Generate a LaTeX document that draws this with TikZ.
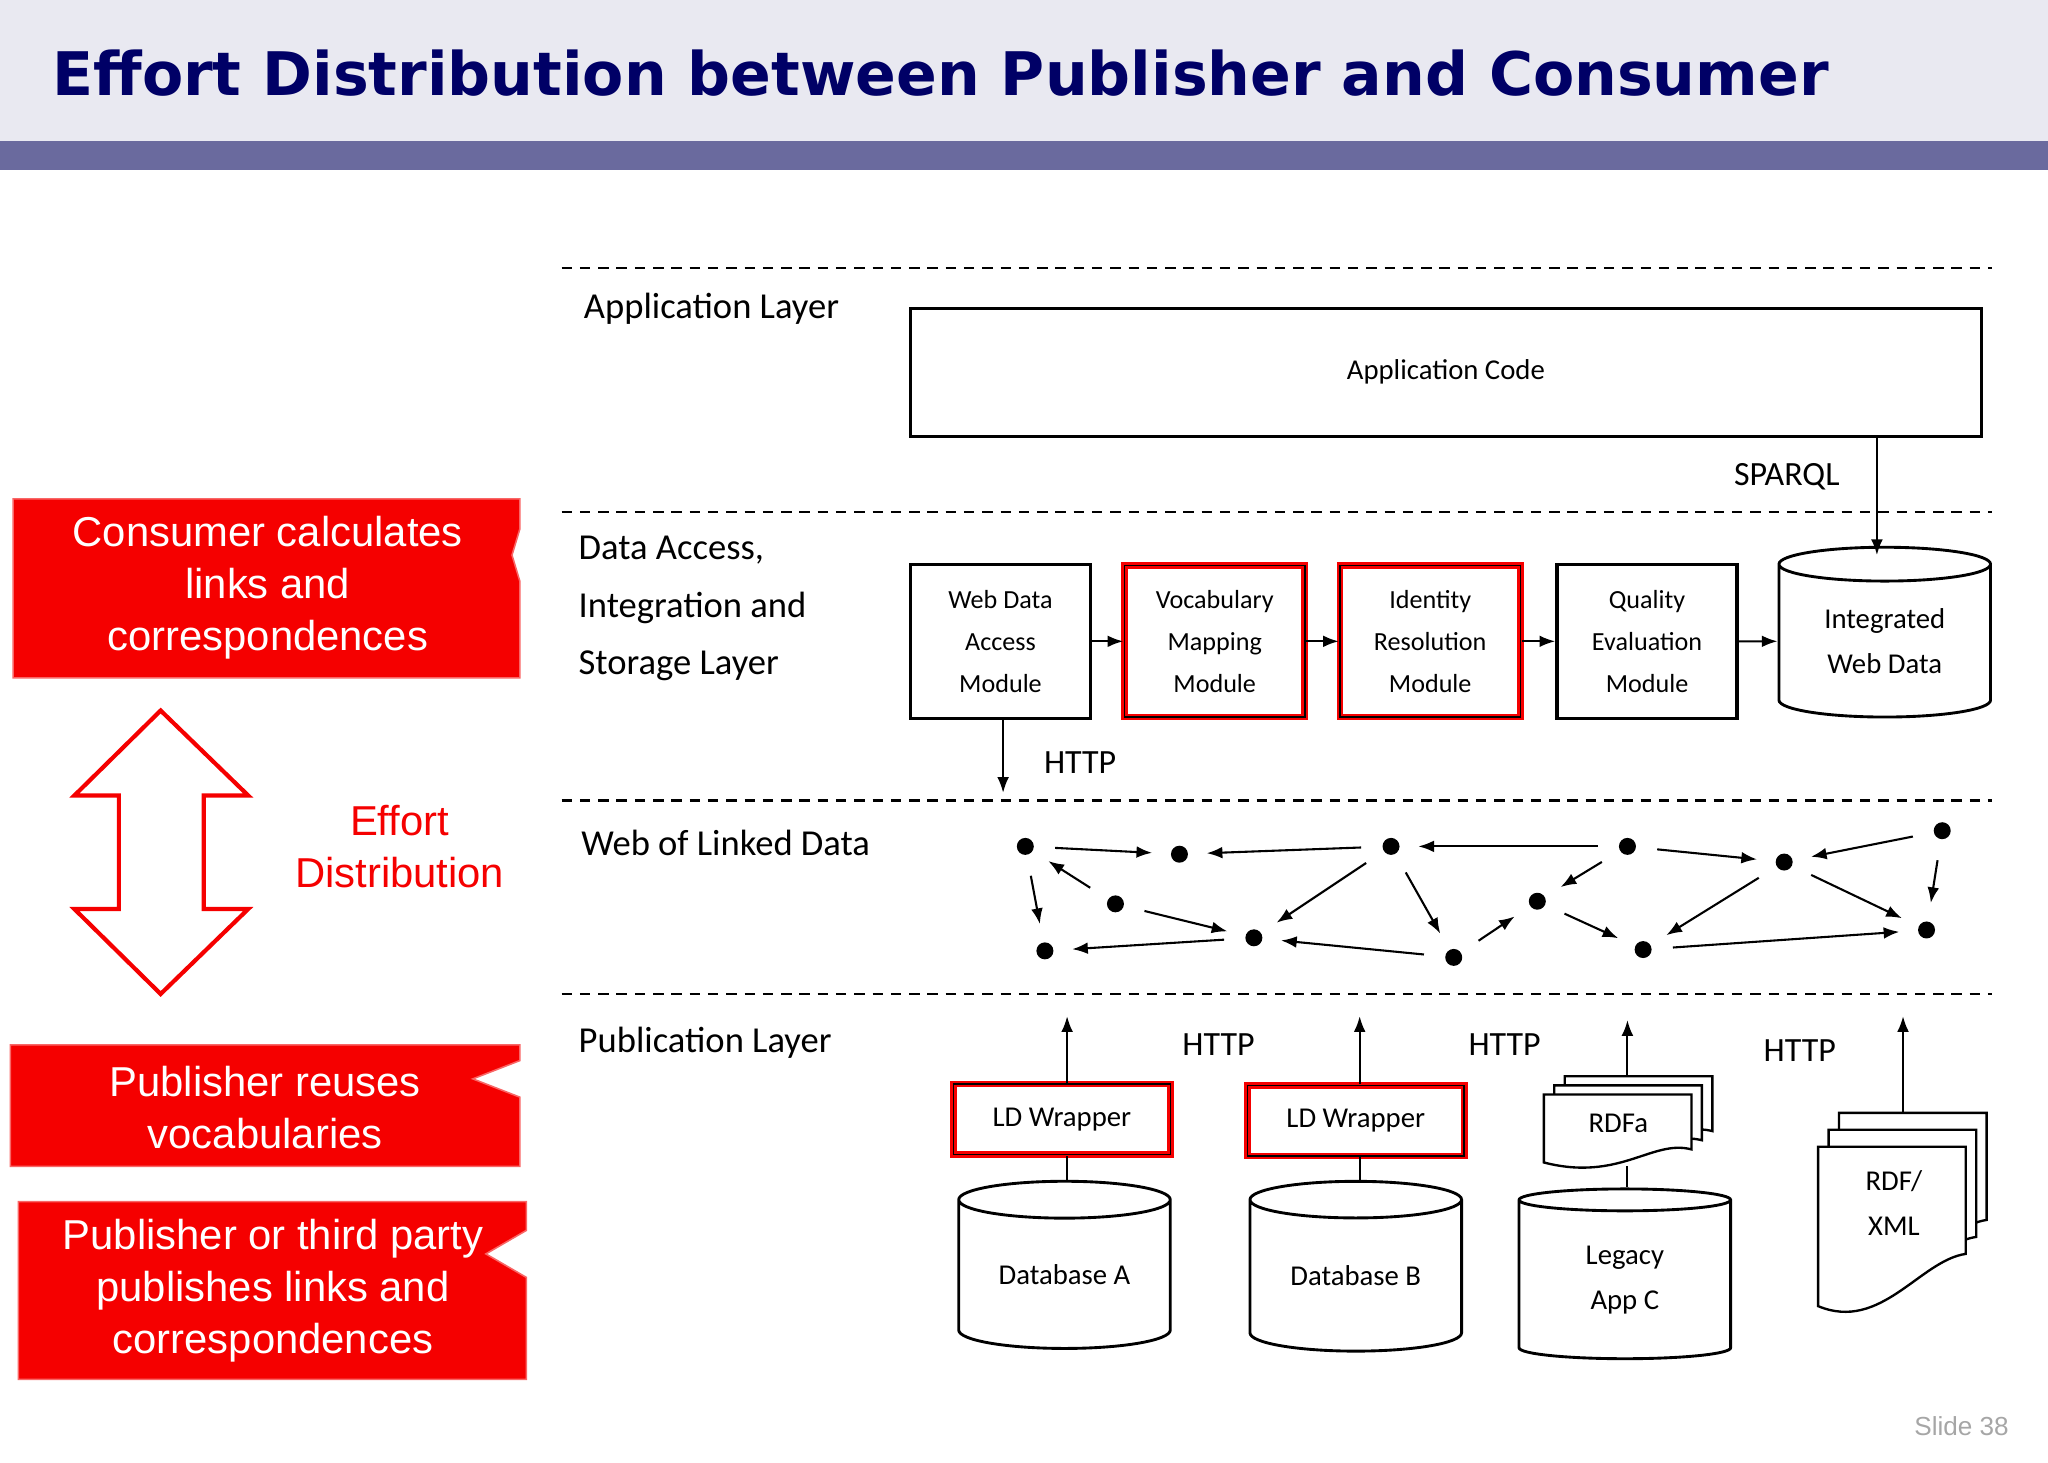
\documentclass[tikz,border=0pt]{standalone}
\usepackage{fontspec}
\setmainfont{Carlito}
\newfontfamily\titlefont{DejaVu Sans}
\newfontfamily\arialf{Liberation Sans}
\usetikzlibrary{shapes.geometric,arrows.meta,calc}
\definecolor{navy}{HTML}{000066}
\definecolor{band}{HTML}{6A6A9E}
\definecolor{topbg}{HTML}{E9E9F1}
\definecolor{pred}{HTML}{F50000}
\begin{document}
\begin{tikzpicture}[x=0.5pt,y=-0.5pt,
  layerline/.style={line width=0.9pt,dash pattern=on 4pt off 3pt},
  lay/.style={anchor=west,font=\fontsize{14}{16}\selectfont},
  mod/.style={draw,line width=1.3pt,align=center,inner sep=0,font=\fontsize{10}{16}\selectfont},
  redmod/.style={mod,draw=pred,double=black,double distance=0.6pt,line width=1pt},
  cyl/.style={cylinder,shape border rotate=90,draw,line width=1.1pt,aspect=0.28,inner sep=0,align=center,font=\fontsize{11}{17}\selectfont,fill=white},
  arr/.style={-{Latex[length=6pt,width=4.5pt]},line width=0.8pt},
  dot/.style={circle,fill=black,inner sep=0,minimum size=6.5pt},
  g/.style={arr,shorten >=7pt,shorten <=8pt},
  lbl/.style={font=\fontsize{13}{15}\selectfont},
  redbox/.style={fill=pred,draw=pred!60!white,line width=0.6pt},
  wt/.style={text=white,align=center,font=\arialf\fontsize{16}{20}\selectfont}
]
\useasboundingbox (0,0) rectangle (1568,1120);
\fill[topbg] (0,0) rectangle (1568,108);
\fill[band] (0,108) rectangle (1568,130);
\node[anchor=west,text=navy,font=\titlefont\bfseries\fontsize{23}{26}\selectfont] (title) at (33,56) {Effort Distribution between Publisher and Consumer};

\foreach \yy in {205,392,613,761} \draw[layerline] (430,\yy) -- (1525,\yy);
\node[lay] (l1) at (440,236) {Application Layer};
\node[lay,align=left,font=\fontsize{14}{22}\selectfont] (l2) at (436,466) {Data Access,\\Integration and\\Storage Layer};
\node[lay] (l3) at (438,645) {Web of Linked Data};
\node[lay] (l4) at (436,798) {Publication Layer};

\node[mod,minimum width=410pt,minimum height=49pt,font=\fontsize{11}{14}\selectfont] (app) at (1107,285) {Application Code};
\node[lbl] (sparql) at (1368,365) {SPARQL};
\node[cyl,minimum width=81pt,minimum height=65pt] (iwd) at (1443,491) {Integrated\\Web Data};
\draw[arr] (app.south -| 1437,0) -- (1437,425);

\node[mod,minimum width=69pt,minimum height=59pt] (m1) at (766,491) {Web Data\\Access\\Module};
\node[redmod,minimum width=69pt,minimum height=58pt] (m2) at (930,491) {Vocabulary\\Mapping\\Module};
\node[redmod,minimum width=69pt,minimum height=58pt] (m3) at (1095,491) {Identity\\Resolution\\Module};
\node[mod,minimum width=69pt,minimum height=59pt] (m4) at (1261,491) {Quality\\Evaluation\\Module};
\draw[arr] (m1.east) -- (m2.west);
\draw[arr] (m2.east) -- (m3.west);
\draw[arr] (m3.east) -- (m4.west);
\draw[arr] (m4.east) -- (iwd.west);
\coordinate (h1) at (768,607);
\draw[arr] (m1.south -| h1) -- (h1);
\node[lbl] (http0) at (827,584) {HTTP};

\node[dot] (g1) at (785,648) {};
\node[dot] (g2) at (903,654) {};
\node[dot] (g3) at (1065,648) {};
\node[dot] (g4) at (1246,648) {};
\node[dot] (g5) at (1366,660) {};
\node[dot] (g6) at (1487,636) {};
\node[dot] (g7) at (854,692) {};
\node[dot] (g8) at (1177,690) {};
\node[dot] (g9) at (800,728) {};
\node[dot] (g10) at (960,718) {};
\node[dot] (g11) at (1113,733) {};
\node[dot] (g12) at (1258,727) {};
\node[dot] (g13) at (1475,712) {};
\draw[g] (g1) -- (g2);
\draw[g] (g3) -- (g2);
\draw[g] (g4) -- (g3);
\draw[g] (g4) -- (g5);
\draw[g] (g6) -- (g5);
\draw[g] (g6) -- (g13);
\draw[g] (g1) -- (g9);
\draw[g] (g7) -- (g1);
\draw[g] (g7) -- (g10);
\draw[g] (g3) -- (g10);
\draw[g] (g3) -- (g11);
\draw[g] (g11) -- (g10);
\draw[g] (g10) -- (g9);
\draw[g] (g11) -- (g8);
\draw[g] (g8) -- (g12);
\draw[g] (g4) -- (g8);
\draw[g] (g5) -- (g12);
\draw[g] (g5) -- (g13);
\draw[g] (g12) -- (g13);

\node[redmod,minimum width=83pt,minimum height=27pt,font=\fontsize{11}{14}\selectfont] (w1) at (813,857) {LD Wrapper};
\node[redmod,minimum width=83pt,minimum height=27pt,font=\fontsize{11}{14}\selectfont] (w2) at (1038,858) {LD Wrapper};
\node[cyl,minimum width=81pt,minimum height=64pt] (da) at (815,976) {Database A};
\node[cyl,minimum width=81pt,minimum height=65pt] (db) at (1038,977) {Database B};
\node[cyl,minimum width=81pt,minimum height=65pt] (dc) at (1244,980) {Legacy\\App C};
\draw[line width=0.8pt] (w1.south -| 817,0) -- (da.north -| 817,0);
\draw[line width=0.8pt] (w2.south -| 1041,0) -- (db.north -| 1041,0);
\coordinate (u1) at (817,778);
\coordinate (u2) at (1041,778);
\coordinate (u3) at (1246,781);
\coordinate (u4) at (1457,778);
\draw[arr] (w1.north -| u1) -- (u1);
\draw[arr] (w2.north -| u2) -- (u2);
\draw[arr] (1246,826) -- (u3);
\draw[arr] (1457,852) -- (u4);
\node[lbl] (hp1) at (933,800) {HTTP};
\node[lbl] (hp2) at (1152,800) {HTTP};
\node[lbl] (hp3) at (1378,804) {HTTP};

\foreach \dx/\dy in {16/-14,8/-7,0/0}{
  \filldraw[fill=white,line width=0.9pt] (1182+\dx,838+\dy) -- (1295+\dx,838+\dy) -- (1295+\dx,880+\dy)
   .. controls (1265+\dx,872+\dy) and (1240+\dx,905+\dy) .. (1182+\dx,890+\dy) -- cycle;
}
\node[font=\fontsize{11}{14}\selectfont] (rdfa) at (1239,860) {RDFa};
\draw[line width=0.8pt] (1246,893) -- (dc.north -| 1246,0);

\foreach \dx/\dy in {16/-26,8/-13,0/0}{
  \filldraw[fill=white,line width=0.9pt] (1392+\dx,878+\dy) -- (1505+\dx,878+\dy) -- (1505+\dx,960+\dy)
   .. controls (1470+\dx,965+\dy) and (1440+\dx,1020+\dy) .. (1392+\dx,1000+\dy) -- cycle;
}
\node[align=center,font=\fontsize{11}{17}\selectfont] (rdfxml) at (1450,921) {RDF/\\XML};

\fill[redbox] (10,382) -- (398,382) -- (398,405) -- (392,425) -- (398,445) -- (398,519) -- (10,519) -- cycle;
\node[wt] (t1) at (205,450) {Consumer calculates\\links and\\correspondences};
\fill[redbox] (8,800) -- (398,800) -- (398,812) -- (362,826) -- (398,840) -- (398,893) -- (8,893) -- cycle;
\node[wt] (t2) at (203,848) {Publisher reuses\\vocabularies};
\fill[redbox] (14,920) -- (403,920) -- (403,942) -- (372,960) -- (403,978) -- (403,1056) -- (14,1056) -- cycle;
\node[wt] (t3) at (209,988) {Publisher or third party\\publishes links and\\correspondences};
\draw[pred,line width=1.6pt,fill=white] (123,544) -- (190,609) -- (156,609) -- (156,696) -- (190,696) -- (123,761) -- (57,696) -- (91,696) -- (91,609) -- (57,609) -- cycle;
\node[text=pred,align=center,font=\arialf\fontsize{16}{20}\selectfont] (ed) at (306,648) {Effort\\Distribution};
\node[text=gray!70,anchor=east,font=\arialf\fontsize{10}{12}\selectfont] (slide) at (1545,1092) {Slide 38};
\end{tikzpicture}
\end{document}
